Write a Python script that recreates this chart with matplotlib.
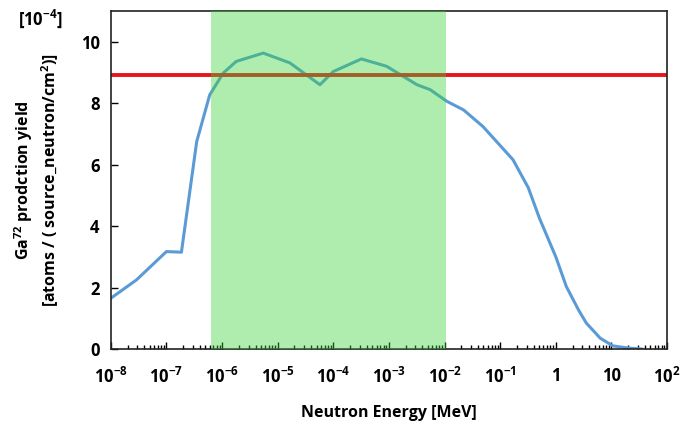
import numpy as np
import matplotlib.pyplot as plt
from matplotlib.ticker import LogLocator, FixedLocator, FixedFormatter, NullFormatter

plt.rcParams['font.family'] = ['Open Sans', 'DejaVu Sans']
plt.rcParams['font.weight'] = 'bold'
plt.rcParams['mathtext.fontset'] = 'custom'
plt.rcParams['mathtext.rm'] = 'Open Sans:bold'
plt.rcParams['mathtext.bf'] = 'Open Sans:bold'
plt.rcParams['mathtext.default'] = 'bf'

# Ga-72 production yield [1e-4 atoms / (source_neutron/cm2)] vs neutron energy [MeV]
energy = [1e-8, 2.9e-8, 1.0e-7, 1.86e-7, 3.5e-7, 6.0e-7, 1.05e-6, 1.8e-6,
          5.5e-6, 1.66e-5, 5.75e-5, 1.0e-4, 3.2e-4, 9.1e-4, 3.2e-3, 5.5e-3,
          1.1e-2, 2.2e-2, 4.9e-2, 1.7e-1, 3.2e-1, 5.1e-1, 1.0, 1.55, 2.6,
          3.55, 6.3, 10.7, 20.0, 35.0]
yield_ = [1.65, 2.25, 3.17, 3.15, 6.75, 8.27, 8.98, 9.36,
          9.63, 9.31, 8.60, 9.03, 9.44, 9.20, 8.60, 8.44,
          8.06, 7.78, 7.24, 6.16, 5.25, 4.25, 3.00, 2.03, 1.25,
          0.84, 0.35, 0.10, 0.03, 0.0]
threshold = 8.92
band = [6.25e-7, 1.05e-2]

xticks = [1e-8, 1e-7, 1e-6, 1e-5, 1e-4, 1e-3, 1e-2, 1e-1, 1, 10, 100]
xlabels = ['$10^{-8}$', '$10^{-7}$', '$10^{-6}$', '$10^{-5}$', '$10^{-4}$',
           '$10^{-3}$', '$10^{-2}$', '$10^{-1}$', '1', '10', '$10^{2}$']

fig = plt.figure(figsize=(6.97, 4.23), dpi=100)
ax = fig.add_axes([0.159, 0.175, 0.798, 0.799])

ax.plot(energy, yield_, color='#5B9BD5', lw=2.2, zorder=2)
ax.axhline(threshold, color='#E8141B', lw=2.8, zorder=2)
ax.axvspan(band[0], band[1], color=(57/255, 212/255, 57/255), alpha=0.4, lw=0, zorder=3)

ax.set_xscale('log')
ax.set_xlim(1e-8, 100)
ax.set_ylim(0, 11)
ax.xaxis.set_major_locator(FixedLocator(xticks))
ax.xaxis.set_major_formatter(FixedFormatter(xlabels))
ax.xaxis.set_minor_locator(LogLocator(base=10, subs=np.arange(2, 10), numticks=100))
ax.xaxis.set_minor_formatter(NullFormatter())
ax.set_yticks([0, 2, 4, 6, 8, 10])

ax.tick_params(axis='both', which='major', direction='in', length=5, width=1,
               labelsize=12, pad=8)
ax.tick_params(axis='x', which='minor', direction='in', length=3, width=1)
ax.tick_params(axis='x', which='major', pad=13)
for lab in ax.get_xticklabels() + ax.get_yticklabels():
    lab.set_fontweight('bold')
for s in ax.spines.values():
    s.set_linewidth(1.2)
    s.set_color('#222222')

ax.set_xlabel('Neutron Energy [MeV]', fontsize=11.5, fontweight='bold', labelpad=13)
ax.set_ylabel('Ga$^{72}$ prodction yield\n[atoms / ( source_neutron/cm$^{2}$)]',
              fontsize=11.5, fontweight='bold', labelpad=14, linespacing=1.3)
fig.text(0.058, 0.955, '[10$^{-4}$]', fontsize=12, fontweight='bold', ha='center', va='center')

fig.savefig('out.png', dpi=100)
